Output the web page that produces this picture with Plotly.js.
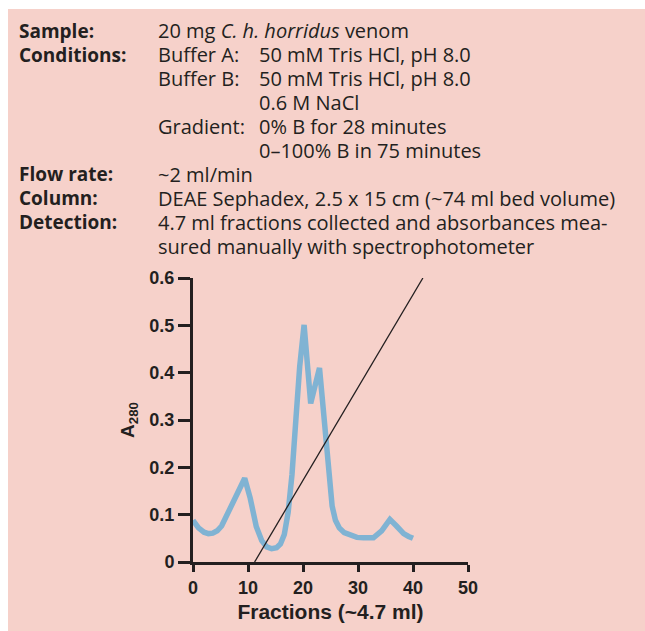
<!DOCTYPE html>
<html>
<head>
<meta charset="utf-8">
<script src="https://cdn.plot.ly/plotly-3.0.1.min.js"></script>
<style>
  html, body { margin: 0; padding: 0; background: #ffffff; }
  #chart { position: absolute; left: 8px; top: 9px; width: 637px; height: 622px; }
</style>
</head>
<body>
<div id="chart"></div>
<script>
// ---- data ----
const fractionX = [0, 1, 2, 2.8, 3.6, 4.4, 5.2, 9.4, 10.4, 11.5, 12.5, 13.4, 14.3, 15.2, 15.9, 16.6, 17.3, 18.0, 18.7, 19.4, 20.2, 21.4, 23.0, 23.7, 24.3, 24.8, 25.3, 25.9, 26.6, 27.5, 28.6, 29.8, 31.0, 32.8, 34.3, 35.8, 37.0, 38.3, 39.2, 40.0];
const a280 = [0.088, 0.072, 0.063, 0.060, 0.061, 0.066, 0.076, 0.177, 0.135, 0.075, 0.045, 0.032, 0.028, 0.030, 0.038, 0.058, 0.105, 0.185, 0.300, 0.413, 0.501, 0.335, 0.410, 0.320, 0.240, 0.165, 0.118, 0.088, 0.072, 0.062, 0.056, 0.052, 0.051, 0.051, 0.066, 0.090, 0.076, 0.060, 0.054, 0.050];
const gradientX = [11.2, 41.8];
const gradientY = [0, 0.6];
const xTicks = [0, 10, 20, 30, 40, 50];
const yTicks = [0, 0.1, 0.2, 0.3, 0.4, 0.5, 0.6];
const yTickText = ['0', '0.1', '0.2', '0.3', '0.4', '0.5', '0.6'];

// header text rows: [label, sub-label, value]
const headerLabels = ['Sample:', 'Conditions:', '', '', '', '', 'Flow rate:', 'Column:', 'Detection:', ''];
const headerSub = ['', 'Buffer A:', 'Buffer B:', '', 'Gradient:', '', '', '', '', ''];
const headerValues = [
  '20 mg <i>C. h. horridus</i> venom',
  '50 mM Tris HCl, pH 8.0',
  '50 mM Tris HCl, pH 8.0',
  '0.6 M NaCl',
  '0% B for 28 minutes',
  '0–100% B in 75 minutes',
  '~2 ml/min',
  'DEAE Sephadex, 2.5 x 15 cm (~74 ml bed volume)',
  '4.7 ml fractions collected and absorbances mea-',
  'sured manually with spectrophotometer'
];
const valueIndent = [false, true, true, true, true, true, false, false, false, false];

// ---- layout geometry ----
const W = 637, H = 622;
const M = { l: 185, r: 177, t: 269, b: 69 };
const plotW = W - M.l - M.r, plotH = H - M.t - M.b;
const offX = 8, offY = 9;
const px2x = px => (px - offX - M.l) / plotW;
const py2y = py => (H - M.b + offY - py) / plotH;

const ink = '#231f20';
const hdrFont = 'Open Sans, Noto Sans, sans-serif';
const valSize = 20;
const lblSize = 19;

const annotations = [];
const rowY0 = 31, rowStep = 23.9;
headerValues.forEach((v, i) => {
  const y = py2y(rowY0 + i * rowStep);
  if (headerLabels[i]) {
    annotations.push({ xref: 'paper', yref: 'paper', x: px2x(17), y: y, xanchor: 'left', yanchor: 'middle',
      text: '<b>' + headerLabels[i] + '</b>', showarrow: false, align: 'left',
      font: { family: hdrFont, size: lblSize, color: ink } });
  }
  if (headerSub[i]) {
    annotations.push({ xref: 'paper', yref: 'paper', x: px2x(156), y: y, xanchor: 'left', yanchor: 'middle',
      text: headerSub[i], showarrow: false, align: 'left',
      font: { family: hdrFont, size: valSize, color: ink } });
  }
  annotations.push({ xref: 'paper', yref: 'paper', x: px2x(valueIndent[i] ? 257 : 156), y: y, xanchor: 'left', yanchor: 'middle',
    text: v, showarrow: false, align: 'left',
    font: { family: hdrFont, size: valSize, color: ink } });
});

const traces = [
  { x: fractionX, y: a280, type: 'scatter', mode: 'lines',
    line: { color: '#80b3d3', width: 5.5, shape: 'linear' }, hoverinfo: 'skip' },
  { x: gradientX, y: gradientY, type: 'scatter', mode: 'lines',
    line: { color: ink, width: 1.3 }, hoverinfo: 'skip' }
];

const tickFont = { family: 'Liberation Sans, Arial, Helvetica, sans-serif', size: 18, color: ink, weight: 'bold' };

const layout = {
  width: W, height: H,
  margin: M,
  paper_bgcolor: '#f6d1ca',
  plot_bgcolor: 'rgba(0,0,0,0)',
  showlegend: false,
  font: { family: 'Liberation Sans, Arial, sans-serif', color: ink },
  xaxis: {
    range: [0, 50], tickvals: xTicks, ticktext: xTicks.map(String),
    showgrid: false, zeroline: false, showline: true, linecolor: ink, linewidth: 3,
    ticks: 'outside', ticklen: 7, tickwidth: 3, tickcolor: ink,
    tickfont: tickFont,
    title: { text: '<b>Fractions (~4.7 ml)</b>', font: { family: 'Liberation Sans, Arial, sans-serif', size: 21, color: ink }, standoff: 8 }
  },
  yaxis: {
    range: [0, 0.6], tickvals: yTicks, ticktext: yTickText,
    showgrid: false, zeroline: false, showline: true, linecolor: ink, linewidth: 3,
    ticks: 'outside', ticklen: 12, tickwidth: 3, tickcolor: ink,
    tickfont: tickFont,
    title: { text: '<b>A<sub>280</sub></b>', font: { family: 'Liberation Sans, Arial, sans-serif', size: 19, color: ink }, standoff: 10 }
  },
  annotations: annotations
};

Plotly.newPlot('chart', traces, layout, { displayModeBar: false, staticPlot: true });
</script>
</body>
</html>
